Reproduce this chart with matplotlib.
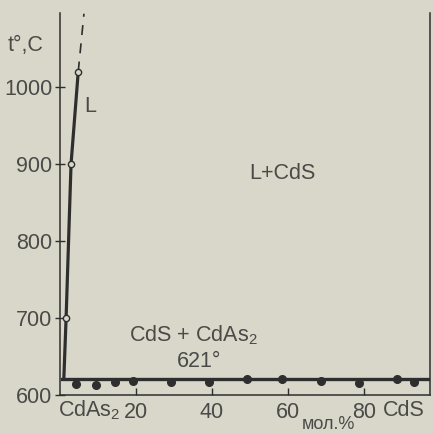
import matplotlib.pyplot as plt

# liquidus of CdS in CdAs2 (mol.% CdS, deg C)
liq_x = [1.0, 1.6, 2.9, 4.8]
liq_t = [621, 700, 900, 1020]
# measured points on liquidus (open circles)
circ_x = [1.6, 2.9, 4.8]
circ_t = [700, 900, 1020]
# extrapolated part (dashed)
ext_x = [4.8, 6.3]
ext_t = [1020, 1095]
# eutectic line
eut_x = [0.5, 97.5]
eut_t = [621, 621]
# thermal effects at the eutectic (filled dots)
dot_x = [4.2, 9.5, 14.5, 19.2, 29.2, 39.2, 49.2, 58.4, 68.7, 78.7, 88.7, 93.2]
dot_t = [614, 613, 617, 618, 617, 617, 620, 621, 618, 616, 620, 617]

yticks = [600, 700, 800, 900, 1000]
xticks = [20, 40, 60, 80]

bg = '#d8d7c9'
ink = '#2e2e2e'
txt = '#4a4a48'

plt.rcParams['font.family'] = ['Liberation Sans Narrow', 'Liberation Sans', 'DejaVu Sans']
plt.rcParams['mathtext.default'] = 'regular'

fig = plt.figure(figsize=(4.35, 4.33), dpi=100, facecolor=bg)
ax = fig.add_axes([0.138, 0.088, 0.851, 0.882])
ax.set_facecolor(bg)
ax.set_xlim(0, 97.5)
ax.set_ylim(600, 1096)

ax.spines['top'].set_visible(False)
for s in ['left', 'right', 'bottom']:
    ax.spines[s].set_color(ink)
    ax.spines[s].set_linewidth(1.1)

ax.set_yticks(yticks)
ax.set_xticks(xticks)
ax.tick_params(axis='y', direction='inout', length=7, width=1, colors=ink,
               labelcolor=txt, labelsize=15.5, pad=2)
ax.tick_params(axis='x', direction='in', length=5, width=1, colors=ink,
               labelcolor=txt, labelsize=15.5, pad=5)

ax.plot(liq_x, liq_t, color=ink, lw=2.3, solid_capstyle='butt')
ax.plot(ext_x, ext_t, color=ink, lw=1.2, dashes=(6, 5))
ax.plot(eut_x, eut_t, color=ink, lw=2.4)
ax.plot(circ_x, circ_t, 'o', ms=4.5, mfc=bg, mec=ink, mew=1.0)
ax.plot(dot_x, dot_t, 'o', ms=5.5, color=ink, clip_on=False)

ax.text(8.0, 975, 'L', fontsize=15.5, color=txt, ha='center', va='center')
ax.text(58.5, 888, 'L+CdS', fontsize=15.5, color=txt, ha='center', va='center')
ax.text(35, 678, 'CdS + CdAs$_2$', fontsize=15.5, color=txt, ha='center', va='center')
ax.text(36.5, 644, '621°', fontsize=15.5, color=txt, ha='center', va='center')
ax.text(-9, 1054, 't°,C', fontsize=15.5, color=txt, ha='center', va='center', clip_on=False)
ax.text(7.8, 580, 'CdAs$_2$', fontsize=15.5, color=txt, ha='center', va='center', clip_on=False)
ax.text(90.5, 580, 'CdS', fontsize=15.5, color=txt, ha='center', va='center', clip_on=False)
ax.text(70.8, 562, 'мол.%', fontsize=13, color=txt, ha='center', va='center', clip_on=False)

fig.savefig('out.png', dpi=100, facecolor=bg)
